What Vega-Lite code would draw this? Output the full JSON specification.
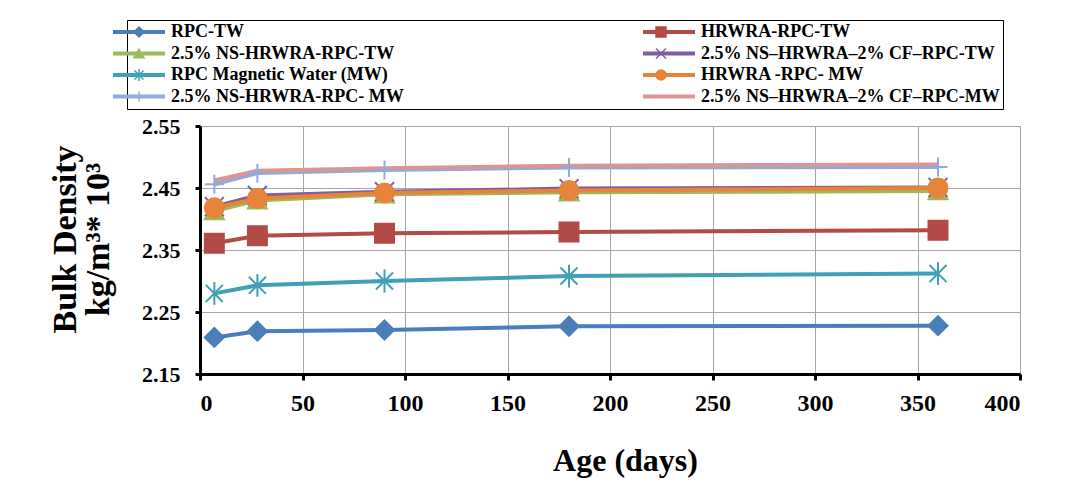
{
  "$schema": "https://vega.github.io/schema/vega-lite/v6.json",
  "autosize": "none",
  "width": 820,
  "height": 248,
  "padding": {"left": 200, "top": 126, "right": 57, "bottom": 124},
  "background": "white",
  "config": {
    "view": {"stroke": "#a6a6a6", "strokeWidth": 1},
    "legend": {"strokeColor": "black"},
    "axis": {
      "grid": true,
      "gridColor": "#a6a6a6",
      "gridWidth": 1,
      "domainColor": "black",
      "domainWidth": 3,
      "tickColor": "black",
      "tickWidth": 3,
      "tickSize": 6,
      "labelFont": "Liberation Serif",
      "labelFontWeight": "bold",
      "labelColor": "black",
      "titleFont": "Liberation Serif",
      "titleFontWeight": "bold",
      "titleColor": "black"
    }
  },
  "data": {
    "values": [
      {"series": "RPC-TW", "age": 7, "density": 2.209},
      {"series": "RPC-TW", "age": 28, "density": 2.219},
      {"series": "RPC-TW", "age": 90, "density": 2.221},
      {"series": "RPC-TW", "age": 180, "density": 2.227},
      {"series": "RPC-TW", "age": 360, "density": 2.228},
      {"series": "HRWRA-RPC-TW", "age": 7, "density": 2.361},
      {"series": "HRWRA-RPC-TW", "age": 28, "density": 2.373},
      {"series": "HRWRA-RPC-TW", "age": 90, "density": 2.377},
      {"series": "HRWRA-RPC-TW", "age": 180, "density": 2.379},
      {"series": "HRWRA-RPC-TW", "age": 360, "density": 2.382},
      {"series": "2.5% NS-HRWRA-RPC-TW", "age": 7, "density": 2.413},
      {"series": "2.5% NS-HRWRA-RPC-TW", "age": 28, "density": 2.43},
      {"series": "2.5% NS-HRWRA-RPC-TW", "age": 90, "density": 2.44},
      {"series": "2.5% NS-HRWRA-RPC-TW", "age": 180, "density": 2.443},
      {"series": "2.5% NS-HRWRA-RPC-TW", "age": 360, "density": 2.445},
      {"series": "2.5% NS–HRWRA–2% CF–RPC-TW", "age": 7, "density": 2.42},
      {"series": "2.5% NS–HRWRA–2% CF–RPC-TW", "age": 28, "density": 2.438},
      {"series": "2.5% NS–HRWRA–2% CF–RPC-TW", "age": 90, "density": 2.444},
      {"series": "2.5% NS–HRWRA–2% CF–RPC-TW", "age": 180, "density": 2.449},
      {"series": "2.5% NS–HRWRA–2% CF–RPC-TW", "age": 360, "density": 2.451},
      {"series": "RPC Magnetic Water (MW)", "age": 7, "density": 2.28},
      {"series": "RPC Magnetic Water (MW)", "age": 28, "density": 2.293},
      {"series": "RPC Magnetic Water (MW)", "age": 90, "density": 2.3},
      {"series": "RPC Magnetic Water (MW)", "age": 180, "density": 2.308},
      {"series": "RPC Magnetic Water (MW)", "age": 360, "density": 2.312},
      {"series": "HRWRA -RPC- MW", "age": 7, "density": 2.418},
      {"series": "HRWRA -RPC- MW", "age": 28, "density": 2.433},
      {"series": "HRWRA -RPC- MW", "age": 90, "density": 2.442},
      {"series": "HRWRA -RPC- MW", "age": 180, "density": 2.446},
      {"series": "HRWRA -RPC- MW", "age": 360, "density": 2.45},
      {"series": "2.5% NS-HRWRA-RPC- MW", "age": 7, "density": 2.456},
      {"series": "2.5% NS-HRWRA-RPC- MW", "age": 28, "density": 2.474},
      {"series": "2.5% NS-HRWRA-RPC- MW", "age": 90, "density": 2.479},
      {"series": "2.5% NS-HRWRA-RPC- MW", "age": 180, "density": 2.483},
      {"series": "2.5% NS-HRWRA-RPC- MW", "age": 360, "density": 2.484},
      {"series": "2.5% NS–HRWRA–2% CF–RPC-MW", "age": 7, "density": 2.462},
      {"series": "2.5% NS–HRWRA–2% CF–RPC-MW", "age": 28, "density": 2.478},
      {"series": "2.5% NS–HRWRA–2% CF–RPC-MW", "age": 90, "density": 2.482},
      {"series": "2.5% NS–HRWRA–2% CF–RPC-MW", "age": 180, "density": 2.486},
      {"series": "2.5% NS–HRWRA–2% CF–RPC-MW", "age": 360, "density": 2.488}
    ]
  },
  "encoding": {
    "x": {
      "field": "age",
      "type": "quantitative",
      "title": "Age (days)",
      "scale": {"domain": [0, 400], "nice": false},
      "axis": {
        "values": [0, 50, 100, 150, 200, 250, 300, 350, 400],
        "labelFontSize": 24,
        "labelPadding": 11,
        "titleFontSize": 32,
        "titleX": 425,
        "titleY": 96,
        "titleBaseline": "alphabetic"
      }
    },
    "y": {
      "field": "density",
      "type": "quantitative",
      "title": ["Bulk Density", "kg/m³* 10³"],
      "scale": {"domain": [2.15, 2.55], "nice": false, "zero": false},
      "axis": {
        "values": [2.15, 2.25, 2.35, 2.45, 2.55],
        "format": ".2f",
        "labelFontSize": 22,
        "labelPadding": 15,
        "tickSize": 5,
        "titleFontSize": 34,
        "titleX": -125,
        "titleY": 113,
        "titleBaseline": "alphabetic",
        "titleLineHeight": 33
      }
    }
  },
  "resolve": {"legend": {"color": "independent", "shape": "independent", "fill": "independent", "stroke": "independent"}},
  "layer": [
    {
      "mark": {"type": "line", "strokeWidth": 4},
      "encoding": {
        "color": {
          "field": "series",
          "type": "nominal",
          "scale": {
            "domain": ["RPC-TW", "2.5% NS-HRWRA-RPC-TW", "RPC Magnetic Water (MW)", "2.5% NS-HRWRA-RPC- MW", "HRWRA-RPC-TW", "2.5% NS–HRWRA–2% CF–RPC-TW", "HRWRA -RPC- MW", "2.5% NS–HRWRA–2% CF–RPC-MW"],
            "range": ["#4a7ebb", "#9bbb59", "#3fa0b8", "#8faadc", "#b24a45", "#7d5fa0", "#e8843a", "#d99694"]
          },
          "legend": {
            "orient": "none",
            "legendX": -73,
            "legendY": -106,
            "columns": 2,
            "columnPadding": 231,
            "title": null,
            "symbolType": "M-5.2,0L5.2,0",
            "symbolSize": 100,
            "symbolStrokeWidth": 4,
            "labelFont": "Liberation Serif",
            "labelFontWeight": "bold",
            "labelFontSize": 18,
            "labelColor": "black",
            "labelOffset": 23,
            "labelLimit": 400,
            "rowPadding": 3.5,
            "padding": 3,
            "strokeColor": "black"
          }
        }
      }
    },
    {
      "mark": {"type": "point", "filled": true, "strokeWidth": 2, "opacity": 1, "size": 360},
      "encoding": {
        "shape": {
          "field": "series",
          "type": "nominal",
          "scale": {
            "domain": ["RPC-TW", "2.5% NS-HRWRA-RPC-TW", "RPC Magnetic Water (MW)", "2.5% NS-HRWRA-RPC- MW", "HRWRA-RPC-TW", "2.5% NS–HRWRA–2% CF–RPC-TW", "HRWRA -RPC- MW", "2.5% NS–HRWRA–2% CF–RPC-MW"],
            "range": ["diamond", "triangle-up", "M-0.9,-0.9L0.9,0.9M-0.9,0.9L0.9,-0.9M0,-1.2L0,1.2", "M0,-1L0,1M-1,0L1,0", "square", "M-1,-1L1,1M-1,1L1,-1", "circle", "M0,0"]
          },
          "legend": {
            "orient": "none",
            "legendX": -73,
            "legendY": -106,
            "columns": 2,
            "columnPadding": 481,
            "title": null,
            "symbolSize": 100,
            "symbolStrokeWidth": 1.5,
            "labelFont": "Liberation Serif",
            "labelFontWeight": "bold",
            "labelFontSize": 18,
            "labelExpr": "''",
            "labelOffset": 23,
            "rowPadding": 3.5,
            "padding": 3,
            "strokeColor": "transparent"
          }
        },
        "fill": {
          "field": "series",
          "type": "nominal",
          "scale": {
            "domain": ["RPC-TW", "2.5% NS-HRWRA-RPC-TW", "RPC Magnetic Water (MW)", "2.5% NS-HRWRA-RPC- MW", "HRWRA-RPC-TW", "2.5% NS–HRWRA–2% CF–RPC-TW", "HRWRA -RPC- MW", "2.5% NS–HRWRA–2% CF–RPC-MW"],
            "range": ["#4a7ebb", "#9bbb59", "#3fa0b8", "#8faadc", "#b24a45", "#7d5fa0", "#e8843a", "#d99694"]
          },
          "legend": {
            "orient": "none",
            "legendX": -73,
            "legendY": -106,
            "columns": 2,
            "columnPadding": 481,
            "title": null,
            "symbolSize": 100,
            "symbolStrokeWidth": 1.5,
            "labelFont": "Liberation Serif",
            "labelFontWeight": "bold",
            "labelFontSize": 18,
            "labelExpr": "''",
            "labelOffset": 23,
            "rowPadding": 3.5,
            "padding": 3,
            "strokeColor": "transparent"
          }
        },
        "stroke": {
          "field": "series",
          "type": "nominal",
          "scale": {
            "domain": ["RPC-TW", "2.5% NS-HRWRA-RPC-TW", "RPC Magnetic Water (MW)", "2.5% NS-HRWRA-RPC- MW", "HRWRA-RPC-TW", "2.5% NS–HRWRA–2% CF–RPC-TW", "HRWRA -RPC- MW", "2.5% NS–HRWRA–2% CF–RPC-MW"],
            "range": ["#4a7ebb", "#9bbb59", "#3fa0b8", "#8faadc", "#b24a45", "#7d5fa0", "#e8843a", "#d99694"]
          },
          "legend": {
            "orient": "none",
            "legendX": -73,
            "legendY": -106,
            "columns": 2,
            "columnPadding": 481,
            "title": null,
            "symbolSize": 100,
            "symbolStrokeWidth": 1.5,
            "labelFont": "Liberation Serif",
            "labelFontWeight": "bold",
            "labelFontSize": 18,
            "labelExpr": "''",
            "labelOffset": 23,
            "rowPadding": 3.5,
            "padding": 3,
            "strokeColor": "transparent"
          }
        }
      }
    }
  ]
}
